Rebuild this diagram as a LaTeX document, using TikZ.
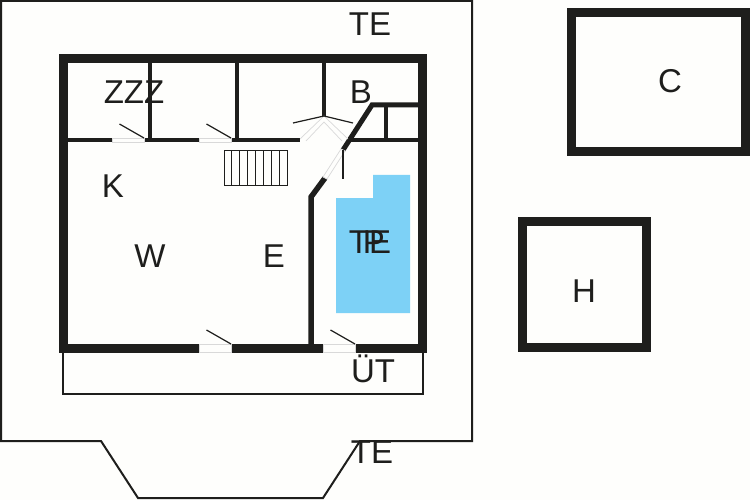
\documentclass[tikz,border=0pt]{standalone}
\usepackage{xcolor}
\usepackage{fontspec}
\setmainfont{Liberation Sans}
\definecolor{paper}{HTML}{FEFEFC}
\definecolor{wallcol}{HTML}{1E1E1C}
\definecolor{poolcol}{HTML}{7DD1F6}
\tikzset{
	wall/.style={draw=wallcol, line width=9pt},
	inwall/.style={draw=wallcol, line width=4.5pt},
	thinline/.style={draw=wallcol, line width=2pt},
	sill/.style={draw=black!15, line width=0.7pt, fill=paper},
	swing/.style={draw=wallcol, line width=1.2pt},
	room/.style={text=wallcol, font=\fontsize{33}{33}\selectfont, inner sep=0pt, anchor=base}
}

\begin{document}
\begin{tikzpicture}[x=1pt, y=-1pt]
	\useasboundingbox (0,0) rectangle (750,500);
	\fill[paper] (0,0) rectangle (750,500);

	% terrace and porch
	\draw[thinline] (1,441) -- (101,441) -- (138,498) -- (323,498) -- (360,441) -- (472,441) -- (472,1) -- (1,1) -- cycle;
	\draw[thinline] (63,348) -- (63,394) -- (423,394) -- (423,348);

	% pool
	\fill[poolcol] (336,198) -- (373,198) -- (373,175) -- (410,175) -- (410,313) -- (336,313) -- cycle;

	% house
	\draw[wall] (63,59) rectangle (422.5,348);
	\draw[inwall] (63,140) -- (300,140);
	\draw[inwall, line width=4pt] (150,59) -- (150,140);
	\draw[inwall, line width=4pt] (237,59) -- (237,140);
	\draw[inwall, line width=4pt] (324,59) -- (324,116);
	\draw[inwall, line width=5pt] (422,105) -- (372,105) -- (343,150);
	\draw[inwall, line width=5.5pt] (325,178) -- (311,197) -- (311,348);
	\draw[inwall, line width=4pt] (386,105) -- (386,140);
	\draw[inwall] (348,140) -- (422,140);

	% doors in the long walls
	\foreach \xa/\xb/\ya/\yb in {112/144/138/142, 199/231/138/142, 199/231/344/352, 323.5/355/344/352} {
		\filldraw[sill] (\xa,\ya) rectangle (\xb,\yb);
		\draw[swing] (\xb,\ya) -- (\xb-24.5,\ya-14);
	}

	% double door
	\draw[sill] (300,139) -- (324,116) -- (348,139);
	\draw[sill] (306,141) -- (324,122) -- (342,141);
	\draw[swing] (324,116) -- (293,123);
	\draw[swing] (324,116) -- (353,123);

	% door in the slanted wall
	\filldraw[sill] (341,149) -- (323,177) -- (327,179) -- (345,151) -- cycle;
	\draw[swing] (343,150) -- (343,179);

	% stairs
	\draw[swing, line width=1pt] (224,151) rectangle (287,186);
	\foreach \i in {1,...,7} {
		\draw[swing, line width=1pt] (224+\i*7.875,151) -- (224+\i*7.875,186);
	}

	% separate buildings
	\draw[wall] (571.5,12.5) rectangle (745,151.5);
	\draw[wall] (522.5,221.5) rectangle (646.5,347.5);

	\node[room] (TEtop) at (370,36) {TE};
	\node[room] (ZZZ) at (134,104) {ZZZ};
	\node[room] (K) at (113,197) {K};
	\node[room] (W) at (150,267) {W};
	\node[room] (E) at (274,267) {E};
	\node[room] (B) at (361,104) {B};
	\node[room] (TEpool) at (370,253) {TE};
	\node[room] (P) at (374,253) {P};
	\node[room] (UT) at (373,382) {ÜT};
	\node[room] (TEbot) at (372,463) {TE};
	\node[room] (C) at (670,93) {C};
	\node[room] (H) at (584,302) {H};
\end{tikzpicture}
\end{document}
